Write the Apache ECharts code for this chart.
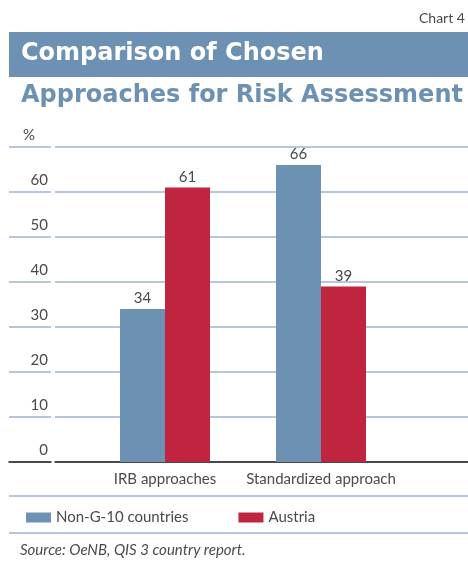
<!DOCTYPE html>
<html>
<head>
<meta charset="utf-8">
<script src="https://cdn.jsdelivr.net/npm/echarts@6/dist/echarts.min.js"></script>
<style>
	html, body { margin: 0; padding: 0; background: #fff; }
	#chart { width: 468px; height: 570px; }
</style>
</head>
<body>
<div id="chart"></div>
<script>
const categories = ['IRB approaches', 'Standardized approach'];
const nonG10 = [34, 66];
const austria = [61, 39];
const seriesNames = ['Non-G-10 countries', 'Austria'];

const BLUE = '#6d91b3';
const RED = '#c0253f';
const GRID_LINE = '#9db5cc';
const TEXT = '#4a4a4a';
const FONT = 'Lato';

// Plot area runs from value 0 (y=462) up to 70 (y=147)
const plotTop = 147;
const plotBottom = 570 - 462;

function gridlineAxes(gridIndex) {
	return {
		x: { type: 'category', gridIndex, data: categories, show: true,
			axisLine: { lineStyle: { color: '#222', width: 1.5 } },
			axisTick: { show: false }, axisLabel: { show: false } },
		y: { type: 'value', gridIndex, min: 0, max: 70, interval: 10,
			axisLine: { show: false }, axisTick: { show: false }, axisLabel: { show: false },
			splitLine: { lineStyle: { color: GRID_LINE, width: 1.5 } } }
	};
}

const leftAxes = gridlineAxes(1);
const rightAxes = gridlineAxes(2);

const chart = echarts.init(document.getElementById('chart'));
chart.setOption({
	animation: false,
	textStyle: { fontFamily: FONT },
	grid: [
		{ left: 87, right: 69, top: plotTop, bottom: plotBottom },
		{ left: 9, width: 42, top: plotTop, bottom: plotBottom },
		{ left: 55, right: 0, top: plotTop, bottom: plotBottom }
	],
	xAxis: [
		{ type: 'category', gridIndex: 0, data: categories,
			axisLine: { show: false }, axisTick: { show: false },
			axisLabel: { color: TEXT, fontSize: 15, margin: 10, interval: 0, hideOverlap: false, fontFamily: FONT } },
		leftAxes.x, rightAxes.x
	],
	yAxis: [
		{ type: 'value', gridIndex: 0, min: 0, max: 70, interval: 10,
			splitLine: { show: false }, axisLine: { show: false }, axisTick: { show: false },
			axisLabel: { color: TEXT, fontSize: 15, margin: 39, verticalAlign: 'bottom',
				padding: [0, 0, 4, 0], fontFamily: FONT,
				formatter: v => (v === 70 ? '{p|%}' : String(v)),
				rich: { p: { fontSize: 15, color: TEXT, fontFamily: FONT, padding: [0, 13, 0, 0] } } } },
		leftAxes.y, rightAxes.y
	],
	legend: {
		left: 21, top: 505, itemWidth: 25, itemHeight: 10, itemGap: 50,
		icon: 'rect',
		textStyle: { color: TEXT, fontSize: 15, fontFamily: FONT },
		data: seriesNames
	},
	series: [
		{ name: seriesNames[0], type: 'bar', data: nonG10, barWidth: 45, barGap: '0%',
			itemStyle: { color: BLUE },
			label: { show: true, position: 'top', color: TEXT, fontSize: 15, distance: 3, fontFamily: FONT } },
		{ name: seriesNames[1], type: 'bar', data: austria, barWidth: 45,
			itemStyle: { color: RED },
			label: { show: true, position: 'top', color: TEXT, fontSize: 15, distance: 3, fontFamily: FONT } }
	],
	graphic: [
		{ type: 'text', left: 419, top: 11, style: { text: 'Chart 4', fill: TEXT, fontSize: 14, fontFamily: FONT } },
		{ type: 'rect', shape: { x: 9, y: 32, width: 459, height: 45 }, style: { fill: BLUE } },
		{ type: 'text', left: 21, top: 42, style: { text: 'Comparison of Chosen', fill: '#fff',
			fontSize: 24, fontWeight: 'bold', fontFamily: 'DejaVu Sans' } },
		{ type: 'text', left: 21, top: 84, style: { text: 'Approaches for Risk Assessment', fill: BLUE,
			fontSize: 24, fontWeight: 'bold', fontFamily: 'DejaVu Sans' } },
		{ type: 'line', shape: { x1: 9, y1: 496, x2: 468, y2: 496 }, style: { stroke: GRID_LINE, lineWidth: 1.5 } },
		{ type: 'line', shape: { x1: 9, y1: 533, x2: 468, y2: 533 }, style: { stroke: GRID_LINE, lineWidth: 1.5 } },
		{ type: 'text', left: 20, top: 543, style: { text: 'Source: OeNB, QIS 3 country report.', fill: TEXT,
			fontSize: 15, fontStyle: 'italic', fontFamily: FONT } }
	]
});
</script>
</body>
</html>
